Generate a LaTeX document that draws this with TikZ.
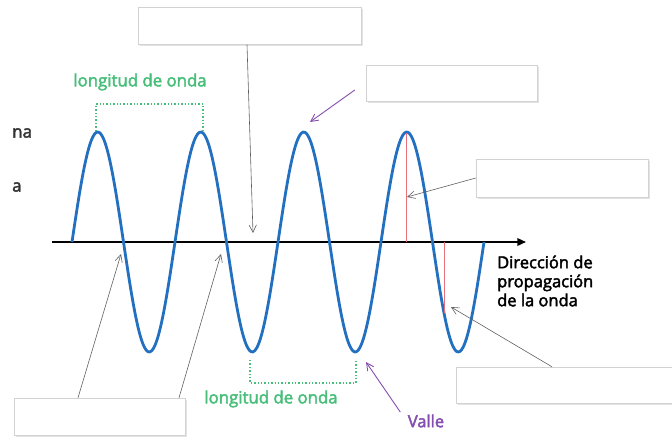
\documentclass[tikz,border=0pt]{standalone}
\usepackage{fontspec}
\setmainfont{Open Sans}
\newfontfamily\medsans{Open Sans}[FakeBold=2.5]
\usetikzlibrary{positioning,arrows.meta,calc,shadows}
\definecolor{waveblue}{RGB}{35,112,192}
\definecolor{lengreen}{RGB}{72,190,122}
\definecolor{lilac}{RGB}{132,78,176}
\definecolor{ampred}{RGB}{232,112,122}

\begin{document}
\begin{tikzpicture}[x=1pt,y=-1pt,>={Straight Barb[length=2.6mm,width=2.6mm]},
  blank/.style={draw=gray!35,fill=white,inner sep=0pt,
    drop shadow={opacity=0.22,shadow xshift=1.5pt,shadow yshift=-1.8pt}},
  lentext/.style={text=lengreen,font=\medsans\fontsize{16.8}{18}\selectfont},
  bracket/.style={lengreen,dotted,line width=1.4pt},
  pointer/.style={->,gray!75!black,line width=0.6pt},
  violet arrow/.style={->,lilac,line width=0.9pt}]
\useasboundingbox (0,0) rectangle (672,442);

% cut-off words at the left edge
\node[anchor=west,inner sep=0pt,text=black!80,font=\medsans\fontsize{17}{19}\selectfont] (cut1) at (12,133) {na};
\node[anchor=west,inner sep=0pt,text=black!80,font=\medsans\fontsize{17}{19}\selectfont] (cut2) at (12,187) {a};

% axis and wave
\coordinate (axL) at (52,242);
\coordinate (axR) at (526,242);
\draw[line width=1.8pt,-{Triangle[length=3mm,width=2.6mm]}] (axL) -- (axR);
\draw[waveblue,line width=2.8pt] plot[domain=72:484,samples=240,smooth] (\x,{242-110*sin(3.49515*(\x-72))});

% amplitude marks
\draw[ampred,line width=1pt] (406.7,133) -- (406.7,242);
\draw[ampred,line width=1pt] (444,242) -- (444,313);

% wavelength brackets
\coordinate (c1) at (96,131);
\coordinate (c2) at (203,131);
\draw[bracket] (c1) -- (96,104) -- (203,104) -- (c2);
\node[lentext] (len1) at (140,82) {longitud de onda};
\coordinate (t1) at (250,360);
\coordinate (t2) at (356,360);
\draw[bracket] (t1) -- (250,383) -- (356,383) -- (t2);
\node[lentext] (len2) at (271,399) {longitud de onda};

\node[anchor=west,align=left,inner sep=0pt,font=\medsans\fontsize{16.5}{19}\selectfont] (dir) at (497,281) {Dirección de\\propagación\\de la onda};

% empty label boxes
\node[blank,minimum width=223pt,minimum height=37pt] (top) at (249.5,26) {};
\node[blank,minimum width=171pt,minimum height=36pt] (crest) at (451.5,83) {};
\node[blank,minimum width=172pt,minimum height=38pt] (amp) at (562,178) {};
\node[blank,minimum width=240pt,minimum height=36pt,anchor=west] (amp2) at (456,385) {};
\node[blank,minimum width=171pt,minimum height=37pt] (node) at (99.5,416.5) {};

% pointers
\coordinate (p0) at (253,233);
\coordinate (p1) at (310,122);
\coordinate (p2) at (407,197);
\coordinate (p3) at (451,307);
\coordinate (p4) at (121,254);
\coordinate (p5) at (221,254);
\coordinate (p6) at (366,362);
\draw[pointer] ([xshift=-2.5pt]top.south) -- (p0);
\draw[violet arrow] ([xshift=-11pt,yshift=-7pt]crest.west) -- (p1);
\draw[pointer] (amp.west) -- (p2);
\draw[pointer] ([xshift=96pt]amp2.north west) -- (p3);
\draw[pointer] ([xshift=-21.5pt]node.north) -- (p4);
\draw[pointer] ([xshift=79.5pt]node.north) -- (p5);
\node[text=lilac,font=\medsans\fontsize{16.5}{18}\selectfont] (valley) at (426,421) {Valle};
\draw[violet arrow] ([xshift=-4pt,yshift=-1pt]valley.north west) -- (p6);
\end{tikzpicture}
\end{document}
